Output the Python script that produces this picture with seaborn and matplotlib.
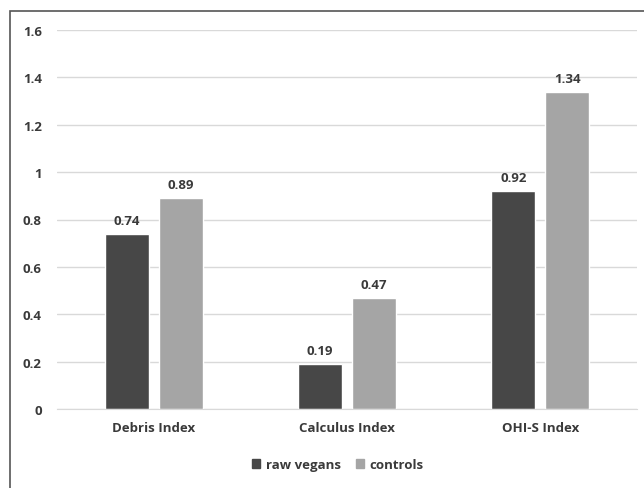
import matplotlib
matplotlib.use("Agg")
import matplotlib.pyplot as plt
from matplotlib.patches import Rectangle
import seaborn as sns
import pandas as pd

categories = ["Debris Index", "Calculus Index", "OHI-S Index"]
groups = ["raw vegans", "controls"]
raw_vegans = [0.74, 0.19, 0.92]
controls = [0.89, 0.47, 1.34]
y_ticks = [0, 0.2, 0.4, 0.6, 0.8, 1, 1.2, 1.4, 1.6]

df = pd.DataFrame({
    "Index": categories * 2,
    "Group": [groups[0]] * 3 + [groups[1]] * 3,
    "Value": raw_vegans + controls,
})

sns.set_style("white")
plt.rcParams["font.family"] = ["Open Sans", "DejaVu Sans"]

text_color = "#3a3a3a"
palette = {"raw vegans": "#474747", "controls": "#a5a5a5"}

fig = plt.figure(figsize=(6.44, 4.89), dpi=100)
ax = fig.add_axes([57 / 644, 1 - 410 / 489, 580 / 644, (410 - 31) / 489])

sns.barplot(data=df, x="Index", y="Value", hue="Group", palette=palette,
            width=0.56, gap=0.19, saturation=1, ax=ax, legend=False)

for container in ax.containers:
    ax.bar_label(container, fmt="%g", padding=5, fontsize=9.5,
                 fontweight="bold", color=text_color)

ax.set_ylim(0, 1.6)
ax.set_xlim(-0.5, 2.5)
ax.set_yticks(y_ticks)
ax.set_yticklabels([f"{t:g}" for t in y_ticks])
ax.yaxis.grid(True, color="#d9d9d9", linewidth=1)
ax.set_axisbelow(True)
ax.tick_params(axis="y", length=0, pad=11, labelsize=9.5, labelcolor=text_color)
ax.tick_params(axis="x", length=0, pad=9, labelsize=9.5, labelcolor=text_color)
for lab in ax.get_xticklabels() + ax.get_yticklabels():
    lab.set_fontweight("bold")
ax.set_xlabel("")
ax.set_ylabel("")
for side in ["top", "left", "right"]:
    ax.spines[side].set_visible(False)
ax.spines["bottom"].set_color("#d9d9d9")

handles = [Rectangle((0, 0), 1, 1, color=palette[g]) for g in groups]
fig.legend(handles, groups, loc="center", bbox_to_anchor=(0.525, 0.048),
           ncol=2, frameon=False, handlelength=0.6, handleheight=0.6,
           handletextpad=0.4, columnspacing=1.2,
           prop={"size": 9.5, "weight": "bold"}, labelcolor=text_color)

fig.patches.append(Rectangle((10 / 644, -0.1), 1.2, 1 - 12 / 489 + 0.1,
                             transform=fig.transFigure, fill=False,
                             edgecolor="#555555", linewidth=1.2))

fig.savefig("out.png", dpi=100)
